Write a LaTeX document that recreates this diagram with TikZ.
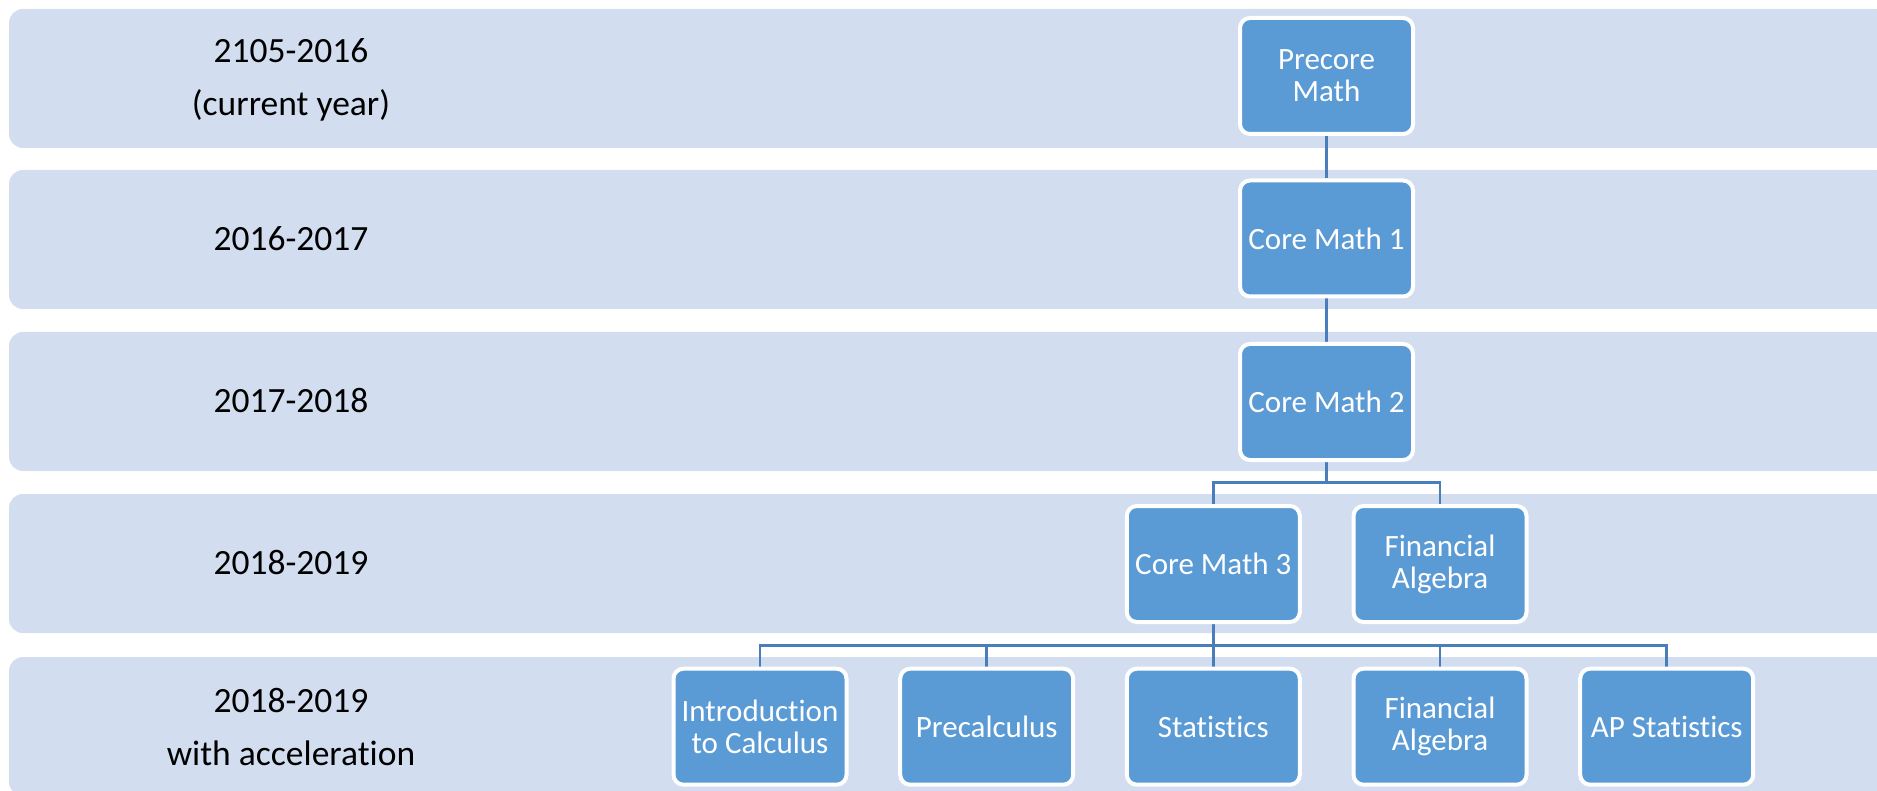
\documentclass[tikz,border=0pt]{standalone}
\usepackage{fontspec}
\setmainfont{Carlito}[RawFeature={-liga;-clig;-calt;-dlig;-rlig}]
\usetikzlibrary{backgrounds}

\definecolor{bandblue}{RGB}{210,222,239}
\definecolor{courseblue}{RGB}{91,155,213}
\definecolor{linkblue}{RGB}{74,126,187}

\newcommand*{\colx}{1326.5}
\newcommand*{\labx}{291}
\newcommand*{\bandh}{139}

\begin{document}
\begin{tikzpicture}
[
	band/.style={fill=bandblue,rounded corners=5.6pt},
	yearlbl/.style={align=center,text=black,font=\fontsize{14.2}{21.4}\selectfont},
	course/.style={draw=white,line width=1.6pt,fill=courseblue,rounded corners=4pt,minimum width=69.2pt,minimum height=46.4pt,inner sep=2pt,align=center,text=white,font=\fontsize{12.4}{12.8}\selectfont},
	link/.style={draw=linkblue,line width=1pt},
	x=0.4pt,
	y=-0.4pt
]

	\useasboundingbox (0,0) rectangle (1877,791);

	% year bands
	\begin{pgfonlayer}{background}
		\foreach \t in {9,170,332,494,657}
			\fill[band] (9,\t) rectangle (1890,{\t+\bandh});
	\end{pgfonlayer}

	% years
	\node[yearlbl] (y1) at (\labx,80) {2105-2016\\(current year)};
	\node[yearlbl] (y2) at (\labx,239) {2016-2017};
	\node[yearlbl] (y3) at (\labx,401) {2017-2018};
	\node[yearlbl] (y4) at (\labx,563) {2018-2019};
	\node[yearlbl] (y5) at (\labx,727) {2018-2019\\with acceleration};

	% courses
	\node[course] (precore) at (\colx,76) {Precore\\Math};
	\node[course] (cm1) at (\colx,238.5) {Core Math 1};
	\node[course] (cm2) at (\colx,402) {Core Math 2};
	\node[course] (cm3) at (1213.3,564) {Core Math 3};
	\node[course] (fin4) at (1440,564) {Financial\\Algebra};
	\node[course] (intro) at (760,726.7) {Introduction\\to Calculus};
	\node[course] (precalc) at (986.7,726.7) {Precalculus};
	\node[course] (stats) at (1213.3,726.7) {Statistics};
	\node[course] (fin5) at (1440,726.7) {Financial\\Algebra};
	\node[course] (apstats) at (1666.7,726.7) {AP Statistics};

	% connectors
	\coordinate (bus4) at (\colx,482.7);
	\coordinate (bus5) at (1213.3,645.7);
	\begin{pgfonlayer}{background}
		\draw[link] (precore) -- (cm1);
		\draw[link] (cm1) -- (cm2);
		\draw[link] (cm2) -- (bus4);
		\draw[link] (bus4) -| (cm3);
		\draw[link] (bus4) -| (fin4);
		\draw[link] (cm3) -- (bus5);
		\foreach \c in {intro,precalc,stats,fin5,apstats}
			\draw[link] (bus5) -| (\c);
	\end{pgfonlayer}

\end{tikzpicture}
\end{document}
